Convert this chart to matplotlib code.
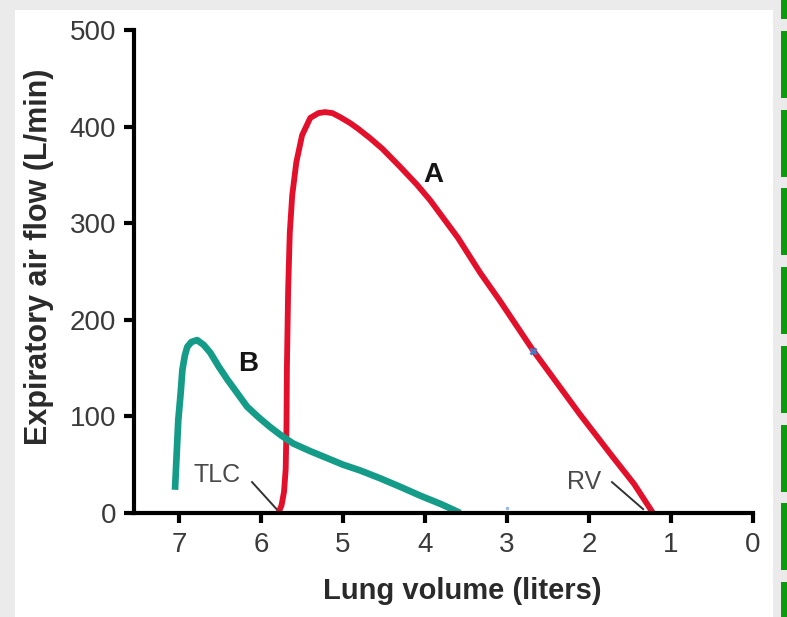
import matplotlib
matplotlib.use("Agg")
import matplotlib.pyplot as plt
from matplotlib.patches import Rectangle

plt.rcParams["font.family"] = ["Liberation Sans", "DejaVu Sans"]

# Curve A (normal): lung volume (L) vs expiratory flow (L/min)
vol_a = [5.79, 5.75, 5.72, 5.70, 5.69, 5.685, 5.67, 5.65, 5.62, 5.57, 5.50, 5.40, 5.30, 5.22, 5.13, 5.04, 4.92, 4.82, 4.67, 4.52, 4.30, 4.10, 3.94, 3.60, 3.33, 3.09, 2.68, 2.11, 1.71, 1.45, 1.22]
flow_a = [0, 8, 22, 45, 90, 150, 230, 290, 329, 363, 391, 409, 414, 415, 414, 410, 404, 398, 388, 377, 358, 340, 324, 285, 249, 220, 168, 102, 58, 30, 0]

# Curve B (obstructive)
vol_b = [7.05, 7.03, 7.01, 6.98, 6.96, 6.93, 6.90, 6.85, 6.78, 6.70, 6.62, 6.52, 6.41, 6.29, 6.17, 6.03, 5.89, 5.75, 5.61, 5.40, 5.20, 5.00, 4.79, 4.55, 4.30, 4.06, 3.80, 3.57]
flow_b = [24, 60, 96, 125, 148, 163, 172, 177, 179, 174, 166, 152, 138, 124, 110, 99, 89, 80, 72, 64, 57, 50, 44, 36, 27, 18, 9, 0]

x_ticks = [7, 6, 5, 4, 3, 2, 1, 0]
y_ticks = [0, 100, 200, 300, 400, 500]

W, H = 787.0, 617.0
fig = plt.figure(figsize=(W/100, H/100), dpi=100)
fig.patch.set_facecolor("#ebebeb")
# white panel
fig.patches.append(Rectangle((15/W, 0), (773-15)/W, (H-10)/H,
                             transform=fig.transFigure, facecolor="white",
                             edgecolor="none", zorder=-5))
# green bars on right edge
for k in range(-1, 8):
    y0 = 31 + 78.7*k
    y1 = y0 + 67
    fig.patches.append(Rectangle((781/W, 1 - y1/H), 6/W, (y1 - y0)/H,
                                 transform=fig.transFigure, facecolor="#0c9b0c",
                                 edgecolor="none", zorder=-5))

ax = fig.add_axes([134/W, (H-513)/H, (753-134)/W, (513-30)/H])
ax.set_facecolor("none")
ax.plot(vol_a, flow_a, color="#e3102b", lw=4.2, solid_capstyle="butt",
        solid_joinstyle="round", zorder=3)
ax.plot(vol_b, flow_b, color="#149c88", lw=4.8, solid_capstyle="butt",
        solid_joinstyle="round", zorder=3)
ax.plot([2.68], [168], marker="x", color="#4a78c8", ms=5, mew=2, zorder=4)
ax.plot([3.0], [5], marker="o", color="#9ab8e0", ms=2.5, mew=0, zorder=4)

ax.set_xlim(7.55, 0)
ax.set_ylim(0, 500)
ax.set_xticks(x_ticks)
ax.set_yticks(y_ticks)
for s in ["top", "right"]:
    ax.spines[s].set_visible(False)
for s in ["left", "bottom"]:
    ax.spines[s].set_linewidth(3)
    ax.spines[s].set_color("black")
    ax.spines[s].set_zorder(5)
ax.tick_params(axis="both", length=7, width=3, color="black", labelsize=20,
               labelcolor="#3a3a3a", pad=6)
ax.tick_params(axis="x", pad=7)

ax.set_xlabel("Lung volume (liters)", fontsize=21, fontweight="bold",
              color="#2a2a2a")
ax.xaxis.set_label_coords(0.531, -0.132)
ax.set_ylabel("Expiratory air flow (L/min)", fontsize=22, fontweight="bold",
              color="#2a2a2a")
ax.yaxis.set_label_coords(-0.13, 0.53)

ax.text(3.90, 350, "A", fontsize=20, fontweight="bold", ha="center", va="center", color="#151515")
ax.text(6.16, 154, "B", fontsize=20, fontweight="bold", ha="center", va="center", color="#151515")
ax.text(6.54, 39, "TLC", fontsize=18, ha="center", va="center", color="#4a4a4a")
ax.plot([6.11, 5.80], [32, 3], color="#333333", lw=1.4, zorder=2)
ax.text(2.06, 32, "RV", fontsize=18, ha="center", va="center", color="#4a4a4a")
ax.plot([1.72, 1.34], [32, 4], color="#333333", lw=1.4, zorder=2)

fig.savefig("out.png", dpi=100)
